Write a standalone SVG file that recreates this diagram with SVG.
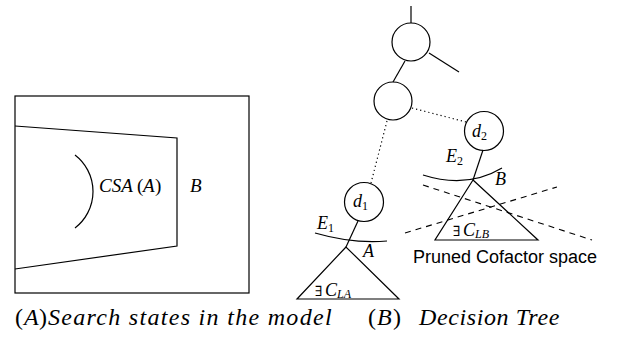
<svg xmlns="http://www.w3.org/2000/svg" width="631" height="338" viewBox="0 0 631 338">
<style>
.s{fill:none;stroke:#000;stroke-width:1.2}
.dot{fill:none;stroke:#000;stroke-width:1.2;stroke-dasharray:1.2 3}
.dash{fill:none;stroke:#000;stroke-width:1.1;stroke-dasharray:6 5}
</style>
<rect x="0" y="0" width="631" height="338" fill="#fff"/>
<g id="panelA">
<rect class="s" x="15" y="96" width="234" height="197"/>
<polyline class="s" points="15,126 177,138 177,246 15,269"/>
<path class="s" d="M75,155 A46,46 0 0 1 75,228"/>
<text x="99" y="192" font-family="Liberation Serif" font-style="italic" font-size="19">CSA</text>
<text x="137" y="192" font-family="Liberation Serif" font-size="19">(</text>
<text x="143" y="192" font-family="Liberation Serif" font-style="italic" font-size="19">A</text>
<text x="155" y="192" font-family="Liberation Serif" font-size="19">)</text>
<text x="190" y="192" font-family="Liberation Serif" font-style="italic" font-size="19">B</text>
</g>
<g id="connectors">
<line class="s" x1="411" y1="6" x2="411" y2="23"/>
<line class="s" x1="429" y1="53" x2="459" y2="72"/>
<line class="s" x1="405" y1="61" x2="393" y2="82"/>
<line class="dot" x1="412" y1="108" x2="466" y2="122"/>
<line class="dot" x1="387" y1="121" x2="371" y2="183"/>
<line class="s" x1="358" y1="221" x2="346" y2="247"/>
<line class="s" x1="483" y1="150" x2="473" y2="180"/>
</g>
<g id="root"><circle class="s" cx="411" cy="42" r="19"/></g>
<g id="mid"><circle class="s" cx="393" cy="101" r="19"/></g>
<g id="d1">
<circle class="s" cx="364" cy="202" r="19.5"/>
<text x="353" y="207" font-family="Liberation Serif" font-style="italic" font-size="18">d</text>
<text x="362" y="210" font-family="Liberation Serif" font-size="12">1</text>
</g>
<g id="d2">
<circle class="s" cx="484" cy="131" r="19.5"/>
<text x="472" y="137" font-family="Liberation Serif" font-style="italic" font-size="18">d</text>
<text x="481" y="140" font-family="Liberation Serif" font-size="12">2</text>
</g>
<g id="subtreeA">
<path class="s" d="M315,233 Q353,244 387,241"/>
<polygon class="s" points="346,247 297,299 399,299"/>
<text x="317" y="229" font-family="Liberation Serif" font-style="italic" font-size="18">E</text>
<text x="328" y="232" font-family="Liberation Serif" font-size="12">1</text>
<text x="363" y="257" font-family="Liberation Serif" font-style="italic" font-size="18">A</text>
<text x="315" y="296" font-family="DejaVu Serif" font-size="14">&#8707;</text>
<text x="325" y="296" font-family="Liberation Serif" font-style="italic" font-size="18">C</text>
<text x="337" y="298" font-family="Liberation Serif" font-style="italic" font-size="12">LA</text>
</g>
<g id="subtreeB">
<path class="s" d="M423,175 Q467,189 502,168"/>
<polygon class="s" points="473,180 435,240 538,240"/>
<line class="dash" x1="423" y1="185" x2="592" y2="240"/>
<line class="dash" x1="405" y1="233" x2="557" y2="187"/>
<text x="446" y="162" font-family="Liberation Serif" font-style="italic" font-size="18">E</text>
<text x="457" y="165" font-family="Liberation Serif" font-size="12">2</text>
<text x="495" y="185" font-family="Liberation Serif" font-style="italic" font-size="18">B</text>
<text x="453" y="236" font-family="DejaVu Serif" font-size="14">&#8707;</text>
<text x="463" y="236" font-family="Liberation Serif" font-style="italic" font-size="18">C</text>
<text x="475" y="238" font-family="Liberation Serif" font-style="italic" font-size="12">LB</text>
<text x="413" y="263" font-family="Liberation Sans" font-size="18">Pruned Cofactor space</text>
</g>
<g id="captions">
<text x="15" y="325" font-family="Liberation Serif" font-size="24">(</text>
<text x="24" y="325" font-family="Liberation Serif" font-style="italic" font-size="24">A</text>
<text x="39" y="325" font-family="Liberation Serif" font-size="24">)</text>
<text x="48" y="325" font-family="Liberation Serif" font-style="italic" font-size="24" letter-spacing="1.3">Search states in the model</text>
<text x="368" y="325" font-family="Liberation Serif" font-size="24">(</text>
<text x="377" y="325" font-family="Liberation Serif" font-style="italic" font-size="24">B</text>
<text x="393" y="325" font-family="Liberation Serif" font-size="24">)</text>
<text x="419" y="325" font-family="Liberation Serif" font-style="italic" font-size="24" letter-spacing="0.6">Decision Tree</text>
</g>
</svg>
